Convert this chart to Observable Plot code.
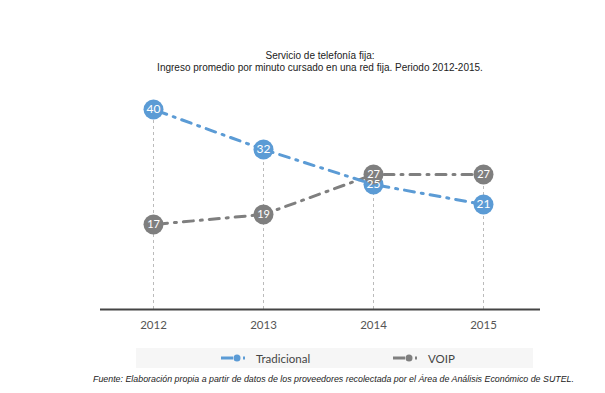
<!DOCTYPE html>
<html><head><meta charset="utf-8">
<script src="https://cdn.jsdelivr.net/npm/d3@7"></script>
<script src="https://cdn.jsdelivr.net/npm/@observablehq/plot@0.6"></script>
<style>
body{margin:0;background:#fff;}
#wrap{position:relative;width:605px;height:393px;overflow:hidden;font-family:"Liberation Sans",Arial,sans-serif;}
#wrap svg.plot{position:absolute;left:0;top:0;}
.t{position:absolute;left:0;width:640px;text-align:center;font-size:10px;color:#222;}
#legend{position:absolute;left:136px;top:348px;width:397px;height:20px;background:#f6f6f6;font-family:Lato,sans-serif;font-size:11.5px;color:#444;}
.li{position:absolute;top:2px;display:flex;align-items:center;height:16px;}
.li svg{margin-right:11px;}
#foot{position:absolute;left:93px;top:374px;font-size:8.85px;font-style:italic;color:#222;white-space:nowrap;}
</style></head>
<body><div id="wrap">
<div class="t" style="top:50px">Servicio de telefonía fija:</div>
<div class="t" style="top:62px">Ingreso promedio por minuto cursado en una red fija. Periodo 2012-2015.</div>
<div id="legend"></div>
<div id="foot">Fuente: Elaboración propia a partir de datos de los proveedores recolectada por el Área de Análisis Económico de SUTEL.</div>
</div>
<script>
const years = ["2012","2013","2014","2015"];
const tradicional = [40, 32, 25, 21];
const voip = [17, 19, 27, 27];
const seriesNames = ["Tradicional", "VOIP"];
const colors = ["#5b9bd5", "#7f7f7f"];

const data = [];
years.forEach((y,i)=>{
  data.push({year:y, value:tradicional[i], serie:seriesNames[0]});
  data.push({year:y, value:voip[i], serie:seriesNames[1]});
});
const trad = data.filter(d=>d.serie==="Tradicional");
const vo = data.filter(d=>d.serie==="VOIP");
const maxes = years.map((y,i)=>({year:y, value:Math.max(tradicional[i], voip[i])}));

const dash = "10,7,2,7";
const chart = Plot.plot({
  width:605, height:393,
  marginLeft:100, marginRight:65, marginTop:109, marginBottom:84,
  x:{type:"point", domain:years, padding:0.5, align:0.48, label:null},
  y:{domain:[0,40], axis:null},
  style:{fontFamily:"Lato, sans-serif", fontSize:"11.5px", color:"#555", background:"transparent"},
  marks:[
    Plot.ruleX(maxes, {x:"year", y1:0, y2:"value", stroke:"#bbb", strokeDasharray:"3,3", strokeWidth:1}),
    Plot.ruleY([0], {stroke:"#444", strokeWidth:2}),
    Plot.axisX({tickSize:0, tickPadding:11, fontSize:11.5, color:"#555", label:null}),
    Plot.line(vo, {x:"year", y:"value", stroke:colors[1], strokeWidth:3, strokeDasharray:dash, strokeDashoffset:-4}),
    Plot.line(trad, {x:"year", y:"value", stroke:colors[0], strokeWidth:3, strokeDasharray:dash, strokeDashoffset:-4}),
    Plot.dot(trad, {x:"year", y:"value", r:10, fill:colors[0]}),
    Plot.dot(vo, {x:"year", y:"value", r:10, fill:colors[1]}),
    Plot.text(vo, {x:"year", y:"value", text:d=>String(d.value), fill:"white", fontSize:11, fontFamily:"Lato, sans-serif"}),
    Plot.text(trad, {x:"year", y:"value", text:d=>String(d.value), fill:"white", fontSize:12, fontFamily:"Lato, sans-serif"})
  ]
});
chart.classList.add("plot");
document.getElementById("wrap").prepend(chart);

const legend = document.getElementById("legend");
const lx = [85, 257];
seriesNames.forEach((n,i)=>{
  const d = document.createElement("div");
  d.className="li"; d.style.left = lx[i]+"px";
  d.innerHTML = `<svg width="24" height="10"><line x1="0" y1="5" x2="24" y2="5" stroke="${colors[i]}" stroke-width="3" stroke-dasharray="12,4,2,4"/><circle cx="16" cy="5" r="3.5" fill="${colors[i]}"/></svg><span>${n}</span>`;
  legend.appendChild(d);
});
</script>
</body></html>
